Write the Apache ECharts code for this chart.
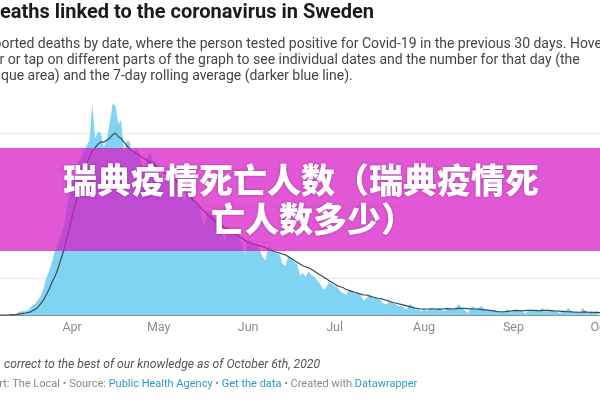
<!DOCTYPE html>
<html>
<head>
<meta charset="utf-8">
<script src="https://cdn.jsdelivr.net/npm/echarts@6/dist/echarts.min.js"></script>
<style>
html,body{margin:0;padding:0;background:#fff;}
#chart{width:600px;height:400px;}
</style>
</head>
<body>
<div id="chart"></div>
<script>
// Daily deaths, starting 2020-03-07
const startDate = [2020, 2, 7];
const deaths = [
  0,0,0,0,1,0,1,2,2,2,
  3,5,6,8,10,14,20,24,29,35,
  39,43,48,57,66,72,78,84,86,90,
  93,96,116,97,101,100,92,97,105,116,
  115,105,107,90,96,95,88,92,90,84,
  80,86,89,85,84,80,76,72,82,78,
  77,75,71,66,62,72,69,66,62,60,
  52,49,58,56,54,53,50,44,41,49,
  47,45,44,42,37,34,42,40,39,38,
  36,32,30,38,37,35,34,33,28,27,
  33,31,29,28,22,23,21,24,22,21,
  19,17,14,15,18,17,16,15,13,12,
  11,14,13,12,12,11,8,9,11,10,
  9,9,8,6,6,7,7,6,5,5,
  4,3,6,5,3,3,2,3,2,4,
  3,3,4,3,2,3,4,3,4,6,
  4,3,1,3,5,3,4,5,3,3,
  2,3,2,2,1,2,3,2,2,3,
  2,2,1,2,3,2,3,2,4,2,
  2,3,2,2,1,2,2,4,2,1,
  2,1,4,2,1,2,1,2,1
];
// 7-day rolling average
const rolling7 = [
  0,0,0,0,0.1,0.1,0.3,0.6,0.9,1.1,
  1.4,2,3,4,6,8,11,14,18,21,
  25,30,35,41,47,54,60,66,72,78,
  83,87,90,92,94,95,95,96,97,99,
  100,98,97,95,93,91,90,89,88,87,
  86,85,84,83,82,80,79,78,77,76,
  75,74,72,70,68,67,65,63,62,60,
  58,57,55,54,52,51,50,49,48,47,
  46,45,44,43,42,41,40,39.5,39,38.5,
  38,37.5,37,36,35.5,35,34.5,34,33.5,33,
  32,31,30,29,28,27,26.5,26,25,24,
  23,22,21,20,19,18,17,16,15.5,15,
  14,13.5,13,12.5,12,11.5,11,11,10.5,10,
  9.5,9.2,9,8.5,8,7.5,7,6.6,6.2,5.8,
  5.4,5,4.6,4.2,3.8,3.5,3.3,3.2,3.3,3.3,
  3.4,3.3,3.2,3.2,3.4,3.5,3.4,3.3,3.5,3.6,
  3.7,3.6,3.5,3.4,3.3,3.3,3.2,3.0,2.8,2.7,
  2.5,2.3,2.0,1.8,1.7,1.8,2.0,2.2,2.4,2.5,
  2.4,2.3,2.4,2.5,2.6,2.5,2.4,2.3,2.5,2.6,
  2.5,2.4,2.3,2.2,2.1,2.0,1.9,1.8,1.7,1.6,
  1.5,1.5,1.6,1.7,1.5,1.4,1.5,1.4,1.3
];
const monthLabels = ['Jan','Feb','Mar','Apr','May','Jun','Jul','Aug','Sep','Oct','Nov','Dec'];
const yTicks = [0, 20, 40, 60, 80, 100];

const titleText = 'Deaths linked to the coronavirus in Sweden';
const subtitleLines = [
  'Reported deaths by date, where the person tested positive for Covid-19 in the previous 30 days. Hover',
  'over or tap on different parts of the graph to see individual dates and the number for that day (the',
  'opaque area) and the 7-day rolling average (darker blue line).'
];
const noteText = 'correct to the best of our knowledge as of October 6th, 2020';
const bannerLines = ['瑞典疫情死亡人数（瑞典疫情死', '亡人数多少）'];

const categories = deaths.map((_, i) => {
  const d = new Date(Date.UTC(startDate[0], startDate[1], startDate[2] + i));
  return d.toISOString().slice(0, 10);
});

const chart = echarts.init(document.getElementById('chart'), null, {renderer: 'canvas'});
chart.setOption({
  animation: false,
  backgroundColor: '#ffffff',
  grid: {left: 0, right: 0, top: 133, bottom: 85, containLabel: false, outerBoundsMode: 'none'},
  xAxis: {
    type: 'category',
    data: categories,
    boundaryGap: false,
    axisLine: {show: true, lineStyle: {color: '#8a9499', width: 1}},
    axisTick: {show: false},
    splitLine: {show: false},
    axisLabel: {
      margin: 6,
      color: '#8c8c8c',
      fontFamily: 'Roboto',
      fontSize: 12.5,
      hideOverlap: false,
      interval: (idx, val) => val.slice(8, 10) === '01',
      formatter: (val) => monthLabels[parseInt(val.slice(5, 7), 10) - 1]
    }
  },
  yAxis: {
    type: 'value',
    min: yTicks[0],
    max: yTicks[yTicks.length - 1],
    interval: 20,
    axisLine: {show: false},
    axisTick: {show: false},
    axisLabel: {show: false},
    splitLine: {lineStyle: {color: '#e8e8e8', width: 1}}
  },
  series: [
    {
      type: 'line',
      data: deaths,
      clip: false,
      symbol: 'none',
      lineStyle: {width: 0, color: '#80d3f3'},
      itemStyle: {color: '#80d3f3'},
      areaStyle: {color: '#80d3f3', opacity: 1},
      z: 2
    },
    {
      type: 'line',
      data: rolling7,
      clip: false,
      symbol: 'none',
      lineStyle: {width: 1.2, color: '#3a4b56'},
      itemStyle: {color: '#3a4b56'},
      z: 3
    }
  ],
  graphic: [
    {type: 'text', z: 50, style: {text: titleText, x: -13, y: 13, textVerticalAlign: 'middle',
      font: 'bold 20px Roboto', fill: '#1b1b1b'}},
    {type: 'text', z: 50, style: {text: subtitleLines[0], x: -22.5, y: 44, textVerticalAlign: 'middle',
      font: '14px Roboto', fill: '#454545'}},
    {type: 'text', z: 50, style: {text: subtitleLines[1], x: -22.5, y: 60, textVerticalAlign: 'middle',
      font: '14px Roboto', fill: '#454545'}},
    {type: 'text', z: 50, style: {text: subtitleLines[2], x: -22.5, y: 76, textVerticalAlign: 'middle',
      font: '14px Roboto', fill: '#454545'}},
    {type: 'text', z: 50, style: {text: noteText, x: 4, y: 365, textVerticalAlign: 'middle',
      font: 'italic 12.2px Roboto', fill: '#555555'}},
    {type: 'text', z: 50, style: {
      text: '{g|Chart: The Local • Source: }{l|Public Health Agency}{g| • }{l|Get the data}{g| • Created with }{l|Datawrapper}',
      x: -20, y: 384, textVerticalAlign: 'middle',
      rich: {
        g: {fontFamily: 'Roboto', fontSize: 11, fill: '#8a8a8a', color: '#8a8a8a'},
        l: {fontFamily: 'Roboto', fontSize: 11, fill: '#2b9bc2', color: '#2b9bc2'}
      }
    }},
    {type: 'rect', z: 100, shape: {x: 0, y: 148, width: 600, height: 103},
      style: {fill: 'rgba(215,22,198,0.72)'}},
    {type: 'text', z: 101, style: {text: bannerLines[0], x: 63, y: 180, textVerticalAlign: 'middle',
      font: '900 34px "Noto Sans CJK SC"', fill: '#ffffff',
      textShadowColor: 'rgba(0,0,0,0.25)', textShadowBlur: 3}},
    {type: 'text', z: 101, style: {text: bannerLines[1], x: 211, y: 219, textVerticalAlign: 'middle',
      font: '900 34px "Noto Sans CJK SC"', fill: '#ffffff',
      textShadowColor: 'rgba(0,0,0,0.25)', textShadowBlur: 3}}
  ]
});
</script>
</body>
</html>
